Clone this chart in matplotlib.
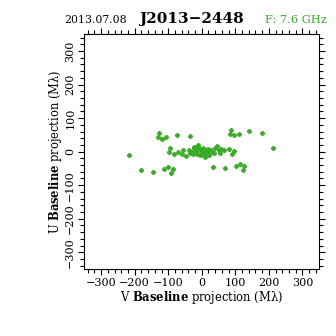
import matplotlib
matplotlib.use("Agg")
import matplotlib.pyplot as plt
from matplotlib.ticker import MultipleLocator

plt.rcParams['font.family'] = ['DejaVu Serif']
plt.rcParams['mathtext.fontset'] = 'dejavuserif'

date_text = "2013.07.08"
source_name = "J2013\u22122448"
freq_text = "F: 7.6 GHz"

v_vals = [-217, -182, -145, -127, -130, -118, -106, -74, -34,
          -94, -98, -84, -72, -58, -55, -46, -37, -34,
          -22, -19, -10, -13, 1, 3, 5, 10, 17, 23, 27, 35, 40, 45, 55, 65, 80, 90, 95,
          -112, -100, -87, -91,
          34, 70, 102, 115, 127, 124,
          88, 84, 96, 110, 142, 179, 213,
          -5, -28, -3, 12, -15, 8, 20, -8, 15, 30, -25, 0, 50, 57, -24, -12, -4]
u_vals = [-10, -56, -60, 56, 44, 38, 44, 51, 47,
          10, -2, -6, -2, -6, 4, -12, 4, -5,
          12, -1, 18, -7, 4, 12, -11, -15, -1, -10, 4, -5, 10, 16, -3, 4, 9, -8, 2,
          -52, -47, -53, -65,
          -46, -50, -42, -36, -42, -54,
          66, 54, 49, 54, 62, 57, 11,
          8, 0, -3, 6, 5, 0, 8, 12, -8, -2, -8, -8, 5, 7, 14, 19, -10]

green = '#3aaa28'

fig = plt.figure(figsize=(3.36, 3.36), dpi=100)
ax = fig.add_axes([0.251, 0.1994, 0.699, 0.6986])
ax.plot(v_vals, u_vals, linestyle='none', marker='P', markersize=3.0,
        color=green, markeredgecolor=green, markeredgewidth=0.7)

ax.set_xlim(-350, 350)
ax.set_ylim(-350, 350)
for a in (ax.xaxis, ax.yaxis):
    a.set_major_locator(MultipleLocator(100))
    a.set_minor_locator(MultipleLocator(20))
ax.tick_params(which='both', direction='out', top=True, right=True,
               labelsize=8, width=0.8, pad=2)
ax.tick_params(which='major', length=4.5)
ax.tick_params(which='minor', length=2.6)
for lab in ax.get_yticklabels():
    lab.set_rotation(90)
    lab.set_va('center')
for s in ax.spines.values():
    s.set_linewidth(0.8)

ax.set_xlabel("V $\\mathbf{Baseline}$ projection (M\u03bb)", fontsize=8.3, labelpad=1)
ax.set_ylabel("U $\\mathbf{Baseline}$ projection (M\u03bb)", fontsize=8.3, labelpad=1)

fig.text(64/336, 1 - 23/336, date_text, fontsize=7.8, ha='left', va='baseline')
fig.text(139/336, 1 - 23/336, source_name, fontsize=11, fontweight='bold',
         ha='left', va='baseline')
fig.text(327/336, 1 - 23/336, freq_text, fontsize=8.2, ha='right', va='baseline',
         color=green)

fig.savefig("out.png", dpi=100)
